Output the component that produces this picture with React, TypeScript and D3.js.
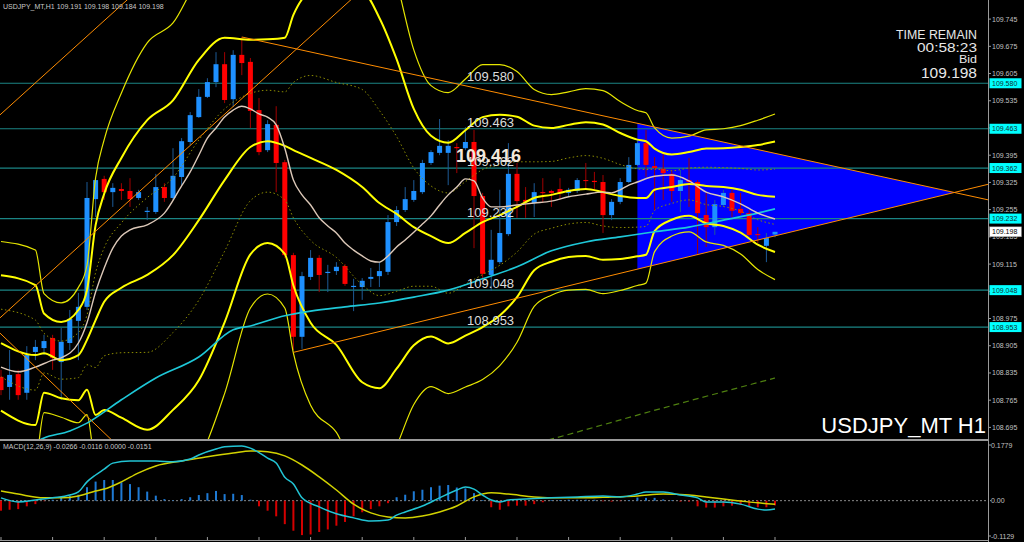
import React from 'react';
import * as d3 from 'd3';

// ---- candles (H1 bars, oldest first) ----
const opens = [108.825, 108.799, 108.832, 108.784, 108.889, 108.899, 108.925, 108.863, 108.912, 108.969,
  109.005, 109.282, 109.334, 109.300, 109.308, 109.303, 109.285, 109.249, 109.249, 109.313,
  109.285, 109.339, 109.429, 109.493, 109.545, 109.583, 109.629, 109.539, 109.653, 109.635,
  109.511, 109.408, 109.473, 109.377, 109.138, 108.928, 109.082, 109.131, 109.092, 109.097,
  109.110, 109.056, 109.056, 109.077, 109.084, 109.095, 109.223, 109.254, 109.280, 109.300,
  109.375, 109.401, 109.401, 109.416, 109.413, 109.429, 109.290, 109.087, 109.120, 109.192,
  109.347, 109.280, 109.272, 109.300, 109.303, 109.308, 109.298, 109.303, 109.331, 109.329,
  109.326, 109.241, 109.275, 109.326, 109.370, 109.426, 109.367, 109.360, 109.347, 109.303,
  109.331, 109.326, 109.241, 109.210, 109.267, 109.298, 109.257, 109.246, 109.192, 109.162, 109.191];
const highs = [108.843, 108.894, 108.843, 108.904, 108.920, 108.933, 108.933, 108.951, 108.997, 109.041,
  109.326, 109.336, 109.342, 109.323, 109.323, 109.336, 109.306, 109.262, 109.347, 109.323,
  109.413, 109.439, 109.506, 109.565, 109.593, 109.660, 109.660, 109.665, 109.699, 109.645,
  109.542, 109.485, 109.521, 109.383, 109.144, 109.095, 109.151, 109.138, 109.113, 109.120,
  109.115, 109.077, 109.079, 109.105, 109.120, 109.241, 109.264, 109.313, 109.331, 109.383,
  109.408, 109.488, 109.434, 109.426, 109.467, 109.460, 109.298, 109.203, 109.306, 109.426,
  109.375, 109.313, 109.323, 109.336, 109.306, 109.336, 109.311, 109.336, 109.375, 109.352,
  109.344, 109.282, 109.336, 109.390, 109.434, 109.460, 109.390, 109.403, 109.357, 109.357,
  109.388, 109.331, 109.298, 109.280, 109.306, 109.306, 109.298, 109.254, 109.210, 109.195, 109.198];
const lows = [108.778, 108.766, 108.766, 108.766, 108.868, 108.881, 108.843, 108.766, 108.894, 108.868,
  108.997, 109.236, 109.280, 109.262, 109.280, 109.262, 109.280, 109.228, 109.244, 109.275,
  109.280, 109.318, 109.421, 109.491, 109.542, 109.570, 109.529, 109.519, 109.601, 109.465,
  109.395, 109.403, 109.300, 109.131, 108.894, 108.897, 109.074, 109.043, 109.043, 109.087,
  109.059, 108.994, 109.023, 109.056, 109.056, 109.087, 109.213, 109.249, 109.275, 109.295,
  109.370, 109.395, 109.318, 109.349, 109.408, 109.156, 109.074, 109.046, 109.115, 109.187,
  109.234, 109.234, 109.236, 109.272, 109.262, 109.280, 109.290, 109.298, 109.306, 109.306,
  109.195, 109.228, 109.269, 109.323, 109.367, 109.339, 109.254, 109.280, 109.275, 109.249,
  109.262, 109.138, 109.159, 109.190, 109.262, 109.236, 109.241, 109.185, 109.169, 109.120, 109.184];
const closes = [108.791, 108.830, 108.778, 108.881, 108.902, 108.917, 108.874, 108.915, 108.974, 109.005,
  109.285, 109.331, 109.300, 109.311, 109.303, 109.282, 109.300, 109.252, 109.313, 109.285,
  109.342, 109.431, 109.498, 109.545, 109.583, 109.629, 109.537, 109.653, 109.632, 109.509,
  109.403, 109.475, 109.375, 109.138, 108.928, 109.084, 109.131, 109.087, 109.095, 109.108,
  109.064, 109.059, 109.072, 109.082, 109.097, 109.223, 109.254, 109.282, 109.303, 109.375,
  109.403, 109.419, 109.419, 109.413, 109.429, 109.290, 109.090, 109.126, 109.195, 109.347,
  109.277, 109.275, 109.300, 109.298, 109.298, 109.298, 109.306, 109.331, 109.329, 109.326,
  109.241, 109.275, 109.326, 109.370, 109.426, 109.370, 109.362, 109.349, 109.303, 109.331,
  109.326, 109.246, 109.210, 109.269, 109.298, 109.252, 109.246, 109.190, 109.190, 109.182, 109.198];

// ---- Bollinger(20): middle and one deviation, read at sample bars ----
const bbBars = [0, 4, 5, 7, 9, 10, 11, 12, 14, 17, 20, 23, 26, 29, 31, 33, 34, 36, 39, 42, 44, 46, 48, 50, 52, 54,
  56, 58, 60, 62, 64, 66, 68, 70, 72, 74, 75, 76, 78, 80, 82, 84, 86, 88, 90];
const bbMid = [108.912, 108.881, 108.886, 108.868, 108.881, 108.920, 108.971, 109.018, 109.054, 109.087, 109.138,
  109.228, 109.331, 109.416, 109.431, 109.419, 109.408, 109.388, 109.357, 109.313, 109.272, 109.244, 109.210,
  109.187, 109.169, 109.195, 109.223, 109.241, 109.262, 109.285, 109.293, 109.303, 109.308, 109.300, 109.290,
  109.285, 109.285, 109.306, 109.313, 109.321, 109.316, 109.313, 109.306, 109.293, 109.288];
const bbDev = [0.087, 0.090, 0.051, 0.049, 0.058, 0.064, 0.122, 0.139, 0.167, 0.199, 0.199, 0.206, 0.183, 0.138,
  0.131, 0.139, 0.174, 0.212, 0.225, 0.251, 0.238, 0.199, 0.152, 0.129, 0.129, 0.132, 0.135, 0.129, 0.116,
  0.093, 0.086, 0.085, 0.086, 0.087, 0.081, 0.075, 0.073, 0.053, 0.042, 0.041, 0.048, 0.050, 0.055, 0.064, 0.071];

// ---- moving averages ----
const fastBars = [0, 2, 4, 6, 7, 9, 10, 11, 12, 13, 14, 15, 17, 19, 21, 22, 23, 24, 25, 26, 27, 28, 29, 30, 31, 32,
  33, 34, 35, 36, 37, 38, 39, 40, 41, 42, 43, 44, 45, 46, 47, 48, 49, 50, 51, 52, 53, 54, 55, 56, 57, 58, 60, 62,
  64, 66, 68, 70, 71, 72, 73, 74, 76, 78, 80, 82, 84, 86, 88, 90];
const fastMA = [108.850, 108.838, 108.850, 108.868, 108.874, 108.912, 108.964, 109.043, 109.105, 109.156, 109.187,
  109.203, 109.216, 109.246, 109.316, 109.352, 109.395, 109.439, 109.465, 109.493, 109.511, 109.521, 109.514,
  109.501, 109.493, 109.473, 109.413, 109.331, 109.293, 109.267, 109.234, 109.213, 109.195, 109.169, 109.151,
  109.136, 109.123, 109.120, 109.136, 109.159, 109.177, 109.197, 109.218, 109.239, 109.267, 109.293, 109.313,
  109.334, 109.329, 109.285, 109.262, 109.262, 109.267, 109.272, 109.277, 109.288, 109.295, 109.300, 109.298,
  109.306, 109.318, 109.326, 109.341, 109.344, 109.329, 109.300, 109.288, 109.270, 109.246, 109.231];
const slowBars = [0, 3, 5, 8, 10, 14, 18, 23, 27, 29, 33, 36, 40, 44, 48, 52, 56, 60, 64, 68, 72, 76, 80, 84, 88, 90];
const slowMA = [108.630, 108.647, 108.668, 108.686, 108.706, 108.766, 108.822, 108.876, 108.946, 108.956, 108.982,
  108.994, 109.005, 109.015, 109.030, 109.048, 109.077, 109.108, 109.149, 109.172, 109.185, 109.198, 109.210,
  109.228, 109.246, 109.257];
const longBars = [58, 64, 77, 90];
const longMA = [108.630, 108.665, 108.745, 108.822];

// ---- objects ----
const levels = [109.580, 109.463, 109.362, 109.232, 109.048, 108.953];
const descBars = [28, 74];
const descPrices = [109.699, 109.477];
const ascBars = [34, 74];
const ascPrices = [108.888, 109.102];
const chanHiBars = [0, 14];
const chanHiPrices = [109.501, 109.781];
const chanLoBars = [0, 40];
const chanLoPrices = [108.979, 109.781];
const fallBars = [0, 12];
const fallPrices = [108.935, 108.681];

// ---- MACD(12,26,9) ----
const macdBars = [0, 2, 4, 6, 8, 9, 10, 11, 12, 13, 15, 18, 20, 22, 23, 25, 26, 28, 29, 31, 32, 33, 34, 35, 37, 39,
  41, 43, 45, 46, 47, 49, 51, 53, 54, 55, 56, 57, 58, 59, 61, 64, 67, 70, 72, 74, 75, 77, 79, 81, 82, 84, 86, 88,
  89, 90];
const macdMain = [0.009, -0.004, 0.002, 0.009, 0.018, 0.028, 0.060, 0.082, 0.101, 0.120, 0.127, 0.127, 0.124, 0.133,
  0.146, 0.165, 0.172, 0.175, 0.168, 0.136, 0.120, 0.075, 0.053, 0.009, -0.020, -0.042, -0.055, -0.065, -0.062,
  -0.046, -0.036, -0.017, 0.009, 0.034, 0.044, 0.037, 0.018, 0.002, -0.004, 0.002, 0.005, 0.009, 0.012, 0.015,
  0.012, 0.021, 0.028, 0.028, 0.018, 0.009, -0.004, -0.004, -0.011, -0.027, -0.030, -0.0266];
const signalBars = [0, 2, 5, 7, 9, 11, 12, 14, 16, 18, 21, 24, 27, 29, 31, 33, 35, 37, 39, 41, 43, 45, 47, 49, 51,
  53, 55, 57, 59, 62, 65, 68, 71, 74, 77, 80, 82, 84, 86, 88, 90];
const macdSignal = [0.031, 0.021, 0.009, 0.009, 0.015, 0.031, 0.037, 0.060, 0.089, 0.111, 0.127, 0.140, 0.152,
  0.159, 0.156, 0.143, 0.114, 0.076, 0.034, -0.011, -0.039, -0.052, -0.055, -0.049, -0.036, -0.017, 0.012, 0.025,
  0.021, 0.012, 0.009, 0.009, 0.012, 0.015, 0.021, 0.018, 0.012, 0.005, -0.001, -0.007, -0.0116];
const macdHist = [-0.032, -0.029, -0.027, -0.018, -0.011, -0.001, 0.003, 0.011, 0.016, 0.019, 0.043, 0.061, 0.066,
  0.066, 0.059, 0.053, 0.043, 0.029, 0.016, 0.005, 0.001, 0.005, 0.011, 0.018, 0.024, 0.031, 0.021, 0.022, 0.018,
  0.003, -0.018, -0.032, -0.050, -0.075, -0.096, -0.110, -0.108, -0.100, -0.092, -0.080, -0.068, -0.050, -0.037,
  -0.027, -0.018, -0.008, 0.011, 0.019, 0.030, 0.035, 0.043, 0.048, 0.050, 0.042, 0.039, 0.024, 0.002, -0.021,
  -0.029, -0.018, -0.016, -0.016, -0.011, -0.005, 0.002, 0.002, 0.003, 0.003, 0.003, 0.003, -0.002, -0.003, -0.001,
  0.002, 0.010, 0.009, 0.009, 0.004, 0.001, -0.003, -0.003, -0.018, -0.022, -0.022, -0.018, -0.016, -0.014, -0.018,
  -0.021, -0.021, -0.0151];

const priceTicks = d3.range(0, 16).map((k) => 108.695 + 0.07 * k);
const macdTicks = [0.1779, 0, -0.1129];
const macdTickLabels = ['0.1779', '0.00', '-0.1129'];
const bid = 109.198;
const infoLines = ['TIME REMAIN', '00:58:23', 'Bid', bid.toFixed(3)];

const W = 1024;
const H = 542;
const AXIS_X = 988;
const MAIN_BOTTOM = 439;
const SUB_TOP = 441;
const SUB_BOTTOM = 540;
const FONT = '"Liberation Sans", Arial, sans-serif';

const x = d3.scaleLinear().domain([0, 90]).range([1, 775]);
const y = d3.scaleLinear().domain([108.695, 109.745]).range([427.4, 19.1]);
const ym = d3.scaleLinear().domain([-0.1129, 0.1779]).range([536, 445]);

const smooth = (bars: number[], vals: number[], sy: d3.ScaleLinear<number, number>) =>
  d3.line<number>()
    .x((_, j) => x(bars[j]))
    .y((v) => sy(v))
    .curve(d3.curveMonotoneX)(vals) || '';

const bandPath = (k: number) =>
  d3.line<number>()
    .x((_, j) => x(bbBars[j]))
    .y((m, j) => y(m + k * bbDev[j]))
    .curve(d3.curveMonotoneX)(bbMid) || '';

const lineAt = (bars: number[], prices: number[]) => {
  const slope = (prices[1] - prices[0]) / (bars[1] - bars[0]);
  return (b: number) => prices[0] + slope * (b - bars[0]);
};

const App: React.FC = () => {
  const leftBar = x.invert(0);
  const rightBar = x.invert(AXIS_X);
  const desc = lineAt(descBars, descPrices);
  const asc = lineAt(ascBars, ascPrices);
  const chanHi = lineAt(chanHiBars, chanHiPrices);
  const chanLo = lineAt(chanLoBars, chanLoPrices);
  const fall = lineAt(fallBars, fallPrices);

  // apex of the triangle
  const sd = (descPrices[1] - descPrices[0]) / (descBars[1] - descBars[0]);
  const sa = (ascPrices[1] - ascPrices[0]) / (ascBars[1] - ascBars[0]);
  const apexBar = descBars[1] + (asc(descBars[1]) - desc(descBars[1])) / (sd - sa);
  const tri = [
    [x(descBars[1]), y(desc(descBars[1]))],
    [x(apexBar), y(desc(apexBar))],
    [x(ascBars[1]), y(asc(ascBars[1]))],
  ].map((p) => p.join(',')).join(' ');

  const seg = (f: (b: number) => number, b0: number, b1: number, key: string) => (
    <line key={key} x1={x(b0)} y1={y(f(b0))} x2={x(b1)} y2={y(f(b1))} stroke="#ff8c00" strokeWidth={1} />
  );

  const bands = [
    { k: 3, stroke: '#e6e600', w: 1.2, dash: undefined },
    { k: 2, stroke: '#ffff00', w: 2, dash: undefined },
    { k: 1, stroke: '#8c8c00', w: 1, dash: '1.5,2.5' },
    { k: 0, stroke: '#ffff00', w: 2, dash: undefined },
    { k: -1, stroke: '#8c8c00', w: 1, dash: '1.5,2.5' },
    { k: -2, stroke: '#ffff00', w: 2, dash: undefined },
    { k: -3, stroke: '#e6e600', w: 1.2, dash: undefined },
  ];

  // info block (top right): baseline, size, fitted width
  const infoStyle = [
    { y: 39, size: 12.5, len: 81 },
    { y: 51.5, size: 13, len: 60 },
    { y: 63, size: 11.5, len: 18 },
    { y: 77.5, size: 15, len: 56 },
  ];

  return (
    <div style={{ position: 'absolute', left: 0, top: 0, width: W, height: H, background: '#000' }}>
      <style>{'body{margin:0;background:#000;}'}</style>
      <svg width={W} height={H} style={{ display: 'block', fontFamily: FONT }}>
        <defs>
          <clipPath id="mainClip"><rect x={0} y={0} width={AXIS_X} height={MAIN_BOTTOM} /></clipPath>
          <clipPath id="subClip"><rect x={0} y={SUB_TOP} width={AXIS_X} height={SUB_BOTTOM - SUB_TOP} /></clipPath>
        </defs>
        <rect width={W} height={H} fill="#000" />

        <g clipPath="url(#mainClip)">
          {/* triangle object in background */}
          <polygon points={tri} fill="#0000ff" />

          {levels.map((lv) => (
            <line key={lv} x1={0} x2={AXIS_X} y1={y(lv)} y2={y(lv)} stroke="#1b8585" strokeWidth={1.2} />
          ))}

          <path d={smooth(longBars, longMA, y)} fill="none" stroke="#4f8010" strokeWidth={1.2} strokeDasharray="6,4" />

          {/* candles */}
          {opens.map((o, i) => {
            const c = closes[i];
            const up = c >= o;
            const cx = x(i);
            const top = y(Math.max(o, c));
            const bh = Math.max(1, y(Math.min(o, c)) - top);
            return (
              <g key={i}>
                <line x1={cx} x2={cx} y1={y(highs[i])} y2={y(lows[i])} stroke={up ? '#1d5a96' : '#a00000'} strokeWidth={1} />
                <rect x={cx - 2.5} y={top} width={5} height={bh} fill={up ? '#1e90ff' : '#ff0000'} />
              </g>
            );
          })}

          {bands.map((b) => (
            <path key={b.k} d={bandPath(b.k)} fill="none" stroke={b.stroke} strokeWidth={b.w} strokeDasharray={b.dash} />
          ))}
          <path d={smooth(slowBars, slowMA, y)} fill="none" stroke="#1ec8d8" strokeWidth={1.6} />
          <path d={smooth(fastBars, fastMA, y)} fill="none" stroke="#dcc8b8" strokeWidth={1.4} />

          {/* trendlines */}
          {seg(chanHi, leftBar, 20, 'ch')}
          {seg(chanLo, leftBar, 45, 'cl')}
          {seg(fall, leftBar, 20, 'fa')}
          {seg(desc, descBars[0], rightBar, 'de')}
          {seg(asc, ascBars[0], rightBar, 'as')}

          {levels.map((lv) => (
            <text key={'t' + lv} x={x(54.2)} y={y(lv) - 2} fill="#dcdcdc" fontSize={13}>{lv.toFixed(3)}</text>
          ))}
          <text x={456} y={y(109.416) + 15} fill="#f3e9dc" fontSize={18} fontWeight="bold">109.416</text>

          {infoLines.map((t, j) => (
            <text key={t} x={977} y={infoStyle[j].y} fill="#e8e8e8" fontSize={infoStyle[j].size} textAnchor="end"
              textLength={infoStyle[j].len} lengthAdjust="spacingAndGlyphs">{t}</text>
          ))}
          <text x={986} y={433} fill="#ffffff" fontSize={22} textAnchor="end">USDJPY_MT H1</text>
          <text x={3} y={9} fill="#c8c8c8" fontSize={7}>USDJPY_MT,H1  109.191 109.198 109.184 109.198</text>
        </g>

        {/* MACD sub window */}
        <g clipPath="url(#subClip)">
          <line x1={0} x2={AXIS_X} y1={ym(0)} y2={ym(0)} stroke="#8a8a8a" strokeDasharray="2,2" strokeWidth={1} />
          {macdHist.map((v, i) => (
            <rect key={i} x={x(i) - 1} width={2} y={Math.min(ym(0), ym(v))} height={Math.max(0.5, Math.abs(ym(v) - ym(0)))}
              fill={v >= 0 ? '#1e7ad4' : '#d40000'} />
          ))}
          <path d={smooth(signalBars, macdSignal, ym)} fill="none" stroke="#d2d200" strokeWidth={1.5} />
          <path d={smooth(macdBars, macdMain, ym)} fill="none" stroke="#22c4d4" strokeWidth={1.5} />
          <text x={3} y={449} fill="#c8c8c8" fontSize={7}>MACD(12,26,9) -0.0266 -0.0116 0.0000 -0.0151</text>
        </g>

        {/* frame */}
        <line x1={0} x2={AXIS_X} y1={440} y2={440} stroke="#9a9a9a" strokeWidth={2} />
        <line x1={0} x2={AXIS_X} y1={SUB_BOTTOM + 0.5} y2={SUB_BOTTOM + 0.5} stroke="#9a9a9a" strokeWidth={1} />
        <line x1={AXIS_X + 0.5} x2={AXIS_X + 0.5} y1={0} y2={H} stroke="#9a9a9a" strokeWidth={1} />
        {d3.range(0, 91, 6).map((b) => (
          <line key={'tt' + b} x1={x(b)} x2={x(b)} y1={SUB_BOTTOM - 3} y2={SUB_BOTTOM} stroke="#9a9a9a" />
        ))}

        {/* price axis */}
        {priceTicks.map((p) => (
          <g key={'pt' + p}>
            <line x1={AXIS_X} x2={AXIS_X + 3} y1={y(p)} y2={y(p)} stroke="#9a9a9a" />
            <text x={992} y={y(p) + 2.5} fill="#c0c0c0" fontSize={7}>{p.toFixed(3)}</text>
          </g>
        ))}
        {levels.map((lv) => (
          <g key={'lb' + lv}>
            <rect x={989.5} y={y(lv) - 5} width={32} height={10} fill="#00ffff" />
            <text x={992} y={y(lv) + 2.5} fill="#103030" fontSize={7}>{lv.toFixed(3)}</text>
          </g>
        ))}
        <rect x={989.5} y={y(bid) - 5} width={32} height={10} fill="#ffffff" stroke="#808080" strokeWidth={0.5} />
        <text x={992} y={y(bid) + 2.5} fill="#000" fontSize={7}>{bid.toFixed(3)}</text>

        {macdTicks.map((v, j) => (
          <g key={'mt' + j}>
            <line x1={AXIS_X} x2={AXIS_X + 3} y1={ym(v)} y2={ym(v)} stroke="#9a9a9a" strokeDasharray={v === 0 ? '1,1' : undefined} />
            <text x={991} y={ym(v) + 2.5} fill="#c0c0c0" fontSize={7}>{macdTickLabels[j]}</text>
          </g>
        ))}
      </svg>
    </div>
  );
};

export default App;
